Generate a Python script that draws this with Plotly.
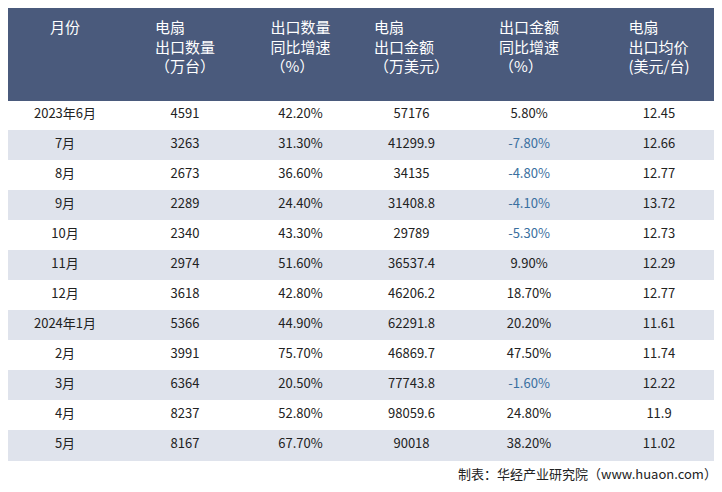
import plotly.graph_objects as go

months = ["2023年6月","7月","8月","9月","10月","11月","12月","2024年1月","2月","3月","4月","5月"]
qty = ["4591","3263","2673","2289","2340","2974","3618","5366","3991","6364","8237","8167"]
qty_yoy = ["42.20%","31.30%","36.60%","24.40%","43.30%","51.60%","42.80%","44.90%","75.70%","20.50%","52.80%","67.70%"]
amt = ["57176","41299.9","34135","31408.8","29789","36537.4","46206.2","62291.8","46869.7","77743.8","98059.6","90018"]
amt_yoy = ["5.80%","-7.80%","-4.80%","-4.10%","-5.30%","9.90%","18.70%","20.20%","47.50%","-1.60%","24.80%","38.20%"]
price = ["12.45","12.66","12.77","13.72","12.73","12.29","12.77","11.61","11.74","12.22","11.9","11.02"]
headers = ["<br>月份","电扇<br>出口数量<br>（万台）","出口数量<br>同比增速<br>（%）","电扇<br>出口金额<br>（万美元）","出口金额<br>同比增速<br>（%）","电扇<br>出口均价<br>(美元/台)"]

fill = ["#ffffff" if i % 2 == 0 else "#dfe3ec" for i in range(len(months))]
black = ["#222222"] * len(months)
neg = ["#3a6fa0" if v.startswith("-") else "#222222" for v in amt_yoy]
font = "Noto Sans CJK SC"

fig = go.Figure(go.Table(
    columnwidth=[114, 126, 105, 117, 118, 142],
    header=dict(values=headers, fill_color="#4a5a7c", line_color="#4a5a7c",
                font=dict(color="white", size=15, family=font), align="center", height=92),
    cells=dict(values=[months, qty, qty_yoy, amt, amt_yoy, price],
               fill_color=[fill]*6, line_color=[fill]*6,
               font=dict(color=[black, black, black, black, neg, black], size=13, family=font),
               align="center", height=30),
    domain=dict(x=[0, 1], y=[0, 1]),
))
fig.add_annotation(text="制表：华经产业研究院（www.huaon.com）", x=0.985, y=27/492, xref="paper", yref="paper",
                   xanchor="right", yanchor="middle", showarrow=False,
                   font=dict(size=13, family=font, color="#222222"))
fig.add_shape(type="rect", xref="paper", yref="paper", x0=0, x1=1, y0=0, y1=4/492,
              fillcolor="#4a5a7c", line_width=0)
fig.update_layout(width=722, height=492, margin=dict(l=0, r=0, t=0, b=0), paper_bgcolor="white")
fig.write_html("out.html")
